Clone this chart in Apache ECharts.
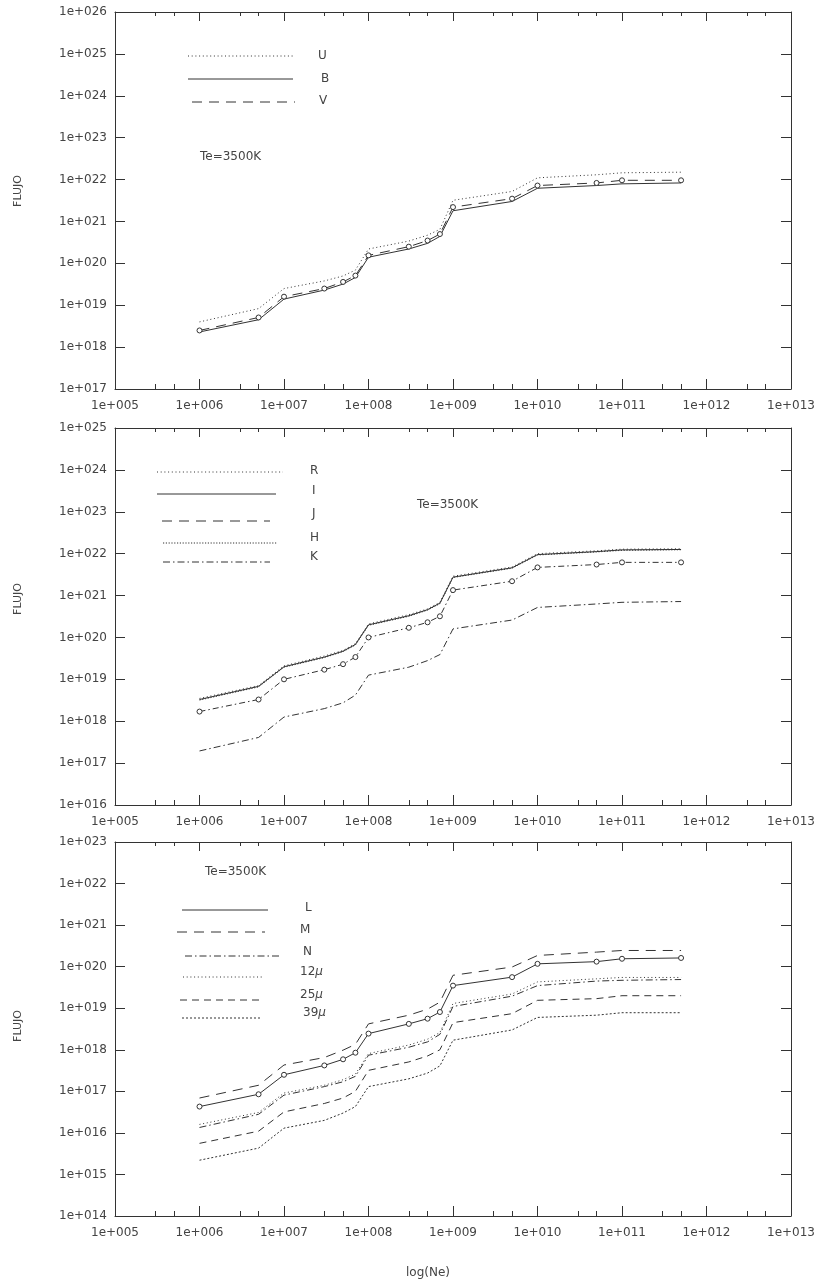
<!DOCTYPE html>
<html>
<head>
<meta charset="utf-8">
<script src="https://cdn.jsdelivr.net/npm/echarts@6/dist/echarts.min.js"></script>
<style>
  html, body { margin: 0; padding: 0; background: #ffffff; }
  #chart { width: 818px; height: 1284px; }
</style>
</head>
<body>
<div id="chart"></div>
<script>
// Electron density (Ne) sampled by the model runs
const ne = [1e6, 5e6, 1e7, 3e7, 5e7, 7e7, 1e8, 3e8, 5e8, 7e8, 1e9, 5e9, 1e10, 5e10, 1e11, 5e11];

// Panel 1: U, B, V fluxes
const fluxU = [4.0e18, 8.3e18, 2.5e19, 3.8e19, 5.0e19, 6.9e19, 2.2e20, 3.4e20, 4.7e20, 6.5e20, 3.2e21, 5.2e21, 1.1e22, 1.3e22, 1.45e22, 1.5e22];
const fluxB = [2.3e18, 4.5e18, 1.4e19, 2.3e19, 3.2e19, 4.6e19, 1.4e20, 2.2e20, 3.0e20, 4.4e20, 1.8e21, 3.0e21, 6.2e21, 7.2e21, 7.9e21, 8.3e21];
const fluxV = [2.5e18, 5.1e18, 1.6e19, 2.5e19, 3.6e19, 5.1e19, 1.55e20, 2.5e20, 3.5e20, 5.0e20, 2.2e21, 3.5e21, 7.2e21, 8.3e21, 9.6e21, 9.6e21];

// Panel 2: R, I, J, H, K fluxes
const fluxR = [3.5e18, 7.1e18, 2.1e19, 3.6e19, 4.9e19, 7.1e19, 2.1e20, 3.5e20, 4.8e20, 6.9e20, 2.9e21, 4.8e21, 1.0e22, 1.17e22, 1.28e22, 1.31e22];
const fluxI = [3.3e18, 6.8e18, 2.0e19, 3.4e19, 4.7e19, 6.8e19, 2.0e20, 3.3e20, 4.6e20, 6.6e20, 2.75e21, 4.6e21, 9.5e21, 1.12e22, 1.23e22, 1.26e22];
const fluxJ = [1.7e18, 3.3e18, 1.0e19, 1.7e19, 2.3e19, 3.4e19, 1.0e20, 1.7e20, 2.3e20, 3.2e20, 1.35e21, 2.2e21, 4.7e21, 5.5e21, 6.2e21, 6.2e21];
const fluxH = [3.2e18, 6.6e18, 1.95e19, 3.3e19, 4.6e19, 6.6e19, 1.95e20, 3.2e20, 4.5e20, 6.4e20, 2.7e21, 4.5e21, 9.3e21, 1.1e22, 1.2e22, 1.24e22];
const fluxK = [1.95e17, 4.1e17, 1.26e18, 2.0e18, 2.75e18, 4.2e18, 1.26e19, 1.95e19, 2.8e19, 3.9e19, 1.6e20, 2.6e20, 5.2e20, 6.3e20, 6.9e20, 7.2e20];

// Panel 3: L, M, N, 12, 25, 39 micron fluxes
const fluxL = [4.3e16, 8.5e16, 2.5e17, 4.2e17, 5.9e17, 8.5e17, 2.45e18, 4.2e18, 5.6e18, 8.1e18, 3.5e19, 5.6e19, 1.17e20, 1.32e20, 1.55e20, 1.62e20];
const fluxM = [6.9e16, 1.4e17, 4.3e17, 6.5e17, 9.8e17, 1.35e18, 4.2e18, 6.8e18, 9.5e18, 1.4e19, 6.2e19, 9.8e19, 1.86e20, 2.24e20, 2.45e20, 2.45e20];
const fluxN = [1.35e16, 2.8e16, 8.1e16, 1.3e17, 1.7e17, 2.3e17, 7.4e17, 1.15e18, 1.55e18, 2.35e18, 1.1e19, 1.95e19, 3.5e19, 4.5e19, 4.7e19, 4.9e19];
const flux12 = [1.6e16, 3.1e16, 9.1e16, 1.4e17, 1.9e17, 2.6e17, 8.1e17, 1.3e18, 1.8e18, 2.6e18, 1.3e19, 2.2e19, 4.3e19, 5.1e19, 5.5e19, 5.5e19];
const flux25 = [5.6e15, 1.1e16, 3.2e16, 5.1e16, 6.9e16, 1.0e17, 3.2e17, 5.1e17, 7.1e17, 1.0e18, 4.5e18, 7.4e18, 1.55e19, 1.7e19, 2.0e19, 2.0e19];
const flux39 = [2.2e15, 4.3e15, 1.3e16, 2.0e16, 3.0e16, 4.3e16, 1.3e17, 2.0e17, 2.75e17, 4.1e17, 1.7e18, 3.0e18, 6.0e18, 6.8e18, 7.8e18, 7.8e18];

// Tick values
const xMajorTicks = [1e5, 1e6, 1e7, 1e8, 1e9, 1e10, 1e11, 1e12, 1e13];
const xMinorTicks = [3e5, 5e5, 3e6, 5e6, 3e7, 5e7, 3e8, 5e8, 3e9, 5e9, 3e10, 5e10, 3e11, 5e11, 3e12, 5e12];
const yTicks1 = [1e17, 1e18, 1e19, 1e20, 1e21, 1e22, 1e23, 1e24, 1e25, 1e26];
const yTicks2 = [1e16, 1e17, 1e18, 1e19, 1e20, 1e21, 1e22, 1e23, 1e24, 1e25];
const yTicks3 = [1e14, 1e15, 1e16, 1e17, 1e18, 1e19, 1e20, 1e21, 1e22, 1e23];

const INK = '#333';
const TXT = '#444';
const FONT = 'DejaVu Sans';

const DOT = [1, 2.7];
const FINEDOT = [1.2, 1.6];
const DASH_LONG = [10, 7];
const DASH_MED = [7, 5];
const DASH_FINE = [2, 2];
const DASHDOT = [7, 3, 1.5, 3];

function expLabel(v) {
  const e = Math.round(Math.log10(v));
  return '1e+' + String(e).padStart(3, '0');
}

// the extent is padded by a hair so the end decades survive rounding in the log transform
const EDGE = 1.000001;

const panels = [
  { top: 12, height: 377, yTicks: yTicks1 },
  { top: 428, height: 377, yTicks: yTicks2 },
  { top: 842, height: 374, yTicks: yTicks3 }
];

const grids = [];
const xAxes = [];
const yAxes = [];
const axisLine = { show: true, lineStyle: { color: INK, width: 1 } };

panels.forEach((p, i) => {
  grids.push({ left: 115, right: 24, top: p.top, height: p.height, containLabel: false });
  const base = { type: 'log', logBase: 10, gridIndex: i, min: 1e5 / EDGE, max: 1e13 * EDGE, splitLine: { show: false } };
  // bottom: major ticks with labels
  xAxes.push(Object.assign({}, base, {
    position: 'bottom', axisLine,
    axisTick: { show: true, inside: true, length: 10, customValues: xMajorTicks, lineStyle: { color: INK } },
    axisLabel: { show: true, customValues: xMajorTicks, formatter: expLabel, fontFamily: FONT, fontSize: 12, color: TXT, margin: 11 }
  }));
  // bottom: minor ticks
  xAxes.push(Object.assign({}, base, {
    position: 'bottom', axisLine: { show: false },
    axisTick: { show: true, inside: true, length: 5, customValues: xMinorTicks, lineStyle: { color: INK } },
    axisLabel: { show: false }
  }));
  // top: major ticks
  xAxes.push(Object.assign({}, base, {
    position: 'top', axisLine,
    axisTick: { show: true, inside: true, length: 9, customValues: xMajorTicks, lineStyle: { color: INK } },
    axisLabel: { show: false }
  }));
  // top: minor ticks
  xAxes.push(Object.assign({}, base, {
    position: 'top', axisLine: { show: false },
    axisTick: { show: true, inside: true, length: 4, customValues: xMinorTicks, lineStyle: { color: INK } },
    axisLabel: { show: false }
  }));
  const yMin = p.yTicks[0], yMax = p.yTicks[p.yTicks.length - 1];
  const ybase = { type: 'log', logBase: 10, gridIndex: i, min: yMin / EDGE, max: yMax * EDGE, splitLine: { show: false } };
  yAxes.push(Object.assign({}, ybase, {
    position: 'left', axisLine,
    axisTick: { show: true, inside: true, length: 10, customValues: p.yTicks, lineStyle: { color: INK } },
    axisLabel: { show: true, customValues: p.yTicks, formatter: expLabel, fontFamily: FONT, fontSize: 12, color: TXT, margin: 8 }
  }));
  yAxes.push(Object.assign({}, ybase, {
    position: 'right', axisLine,
    axisTick: { show: true, inside: true, length: 10, customValues: p.yTicks, lineStyle: { color: INK } },
    axisLabel: { show: false }
  }));
});

function pairs(values) {
  return ne.map((x, k) => [x, values[k]]);
}

function line(panel, name, values, dash, markers) {
  return {
    type: 'line', name,
    xAxisIndex: panel * 4, yAxisIndex: panel * 2,
    data: pairs(values),
    symbol: markers ? 'circle' : 'none',
    symbolSize: 5,
    showSymbol: !!markers,
    itemStyle: { color: '#ffffff', borderColor: INK, borderWidth: 1 },
    lineStyle: { color: INK, width: 1, type: dash || 'solid' },
    emphasis: { disabled: true },
    z: markers ? 3 : 2
  };
}

const series = [
  line(0, 'U', fluxU, DOT),
  line(0, 'B', fluxB, 'solid'),
  line(0, 'V', fluxV, DASH_LONG, true),

  line(1, 'R', fluxR, DOT),
  line(1, 'I', fluxI, 'solid'),
  line(1, 'J', fluxJ, [6, 3, 1.5, 3], true),
  line(1, 'H', fluxH, FINEDOT),
  line(1, 'K', fluxK, DASHDOT),

  line(2, 'L', fluxL, 'solid', true),
  line(2, 'M', fluxM, DASH_LONG),
  line(2, 'N', fluxN, DASHDOT),
  line(2, '12μ', flux12, DOT),
  line(2, '25μ', flux25, DASH_MED),
  line(2, '39μ', flux39, DASH_FINE)
];

// Legend keys drawn inside each panel
const legendKeys = [
  { x1: 188, x2: 293, y: 56, dash: DOT, label: 'U', lx: 318, ly: 56 },
  { x1: 188, x2: 293, y: 79, dash: null, label: 'B', lx: 321, ly: 79 },
  { x1: 192, x2: 295, y: 102, dash: DASH_LONG, label: 'V', lx: 319, ly: 101 },

  { x1: 157, x2: 283, y: 472, dash: DOT, label: 'R', lx: 310, ly: 471 },
  { x1: 157, x2: 276, y: 494, dash: null, label: 'I', lx: 312, ly: 491 },
  { x1: 162, x2: 270, y: 521, dash: DASH_LONG, label: 'J', lx: 312, ly: 514 },
  { x1: 163, x2: 277, y: 543, dash: FINEDOT, label: 'H', lx: 310, ly: 538 },
  { x1: 163, x2: 270, y: 562, dash: DASHDOT, label: 'K', lx: 310, ly: 557 },

  { x1: 182, x2: 268, y: 910, dash: null, label: 'L', lx: 305, ly: 908 },
  { x1: 177, x2: 265, y: 932, dash: DASH_LONG, label: 'M', lx: 300, ly: 930 },
  { x1: 185, x2: 280, y: 956, dash: DASHDOT, label: 'N', lx: 303, ly: 952 },
  { x1: 183, x2: 262, y: 977, dash: DOT, label: '12{mu|μ}', lx: 300, ly: 972 },
  { x1: 180, x2: 262, y: 1000, dash: DASH_MED, label: '25{mu|μ}', lx: 300, ly: 995 },
  { x1: 182, x2: 262, y: 1018, dash: DASH_FINE, label: '39{mu|μ}', lx: 303, ly: 1013 }
];

const graphic = [];
legendKeys.forEach(k => {
  graphic.push({
    type: 'line', silent: true,
    shape: { x1: k.x1, y1: k.y, x2: k.x2, y2: k.y },
    style: { stroke: INK, lineWidth: 1, lineDash: k.dash || null }
  });
  graphic.push({
    type: 'text', silent: true, x: k.lx, y: k.ly,
    style: {
      text: k.label, fill: TXT, font: '12px "' + FONT + '"',
      align: 'left', verticalAlign: 'middle',
      rich: { mu: { fontStyle: 'italic', fontFamily: FONT, fontSize: 12, fill: TXT } }
    }
  });
});

const tempLabels = [
  { x: 200, y: 157 },
  { x: 417, y: 505 },
  { x: 205, y: 872 }
];
tempLabels.forEach(t => {
  graphic.push({
    type: 'text', silent: true, x: t.x, y: t.y,
    style: { text: 'Te=3500K', fill: TXT, font: '12px "' + FONT + '"', align: 'left', verticalAlign: 'middle' }
  });
});

[191, 599, 1026].forEach(y => {
  graphic.push({
    type: 'text', silent: true, x: 18, y, rotation: Math.PI / 2,
    style: { text: 'FLUJO', fill: TXT, font: '11px "' + FONT + '"', align: 'center', verticalAlign: 'middle' }
  });
});

graphic.push({
  type: 'text', silent: true, x: 428, y: 1273,
  style: { text: 'log(Ne)', fill: TXT, font: '12px "' + FONT + '"', align: 'center', verticalAlign: 'middle' }
});

const chart = echarts.init(document.getElementById('chart'), null, { renderer: 'canvas' });
chart.setOption({
  animation: false,
  backgroundColor: '#ffffff',
  grid: grids,
  xAxis: xAxes,
  yAxis: yAxes,
  series,
  graphic
});
</script>
</body>
</html>
